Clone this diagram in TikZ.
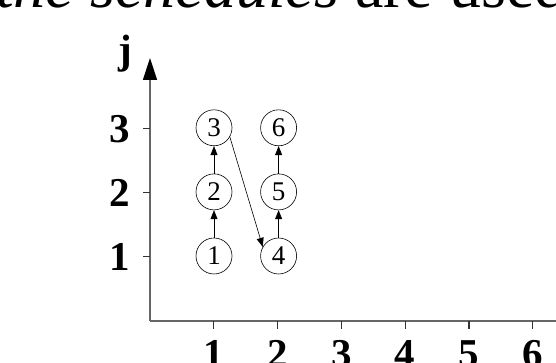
\documentclass[tikz,border=0pt]{standalone}
\usepackage{fontspec}
\setmainfont{Liberation Serif}
\usetikzlibrary{arrows.meta, positioning}

\begin{document}
\begin{tikzpicture}[x=1pt, y=1pt,
  % ---- Job nodes and dependency arrows ----
  job/.style={draw, circle, minimum size=36pt, inner sep=0pt,
    line width=0.6pt, font=\fontsize{27}{27}\selectfont},
  dep/.style={-{Triangle[length=9pt, width=7pt]}, line width=0.6pt},
  % ---- Axis styles ----
  axis/.style={draw=black!60, line width=1.4pt},
  tick/.style={draw=black!80, line width=1.2pt},
  axlbl/.style={font=\fontsize{41}{41}\selectfont\bfseries,
    inner sep=0pt, anchor=base},
  node distance=27.5pt,
]
\useasboundingbox (0,0) rectangle (556,363);
\clip (0,0) rectangle (556,363);

% ---- Running text above the figure (cut by the page edge) ----
\node[anchor=base west, inner sep=0pt, font=\fontsize{64}{64}\selectfont]
  (caption) at (-4,355) {\textit{the schedules} are used};

% ---- Axes ----
\coordinate (origin) at (150,42);
\coordinate (ytip)   at (150,305);
\coordinate (xend)   at (580,42);
\draw[axis, -{Triangle[length=22pt, width=14pt, color=black]}] (origin) -- (ytip);
\draw[axis] (origin) -- (xend);
\node[axlbl] (jlbl) at (125,299) {j};

% ---- Ticks and tick labels ----
\foreach \i in {1,...,6} {
  \draw[tick] (150+63.8*\i, 42) -- ++(0,-8);
  \node[axlbl] (x\i) at (150+63.8*\i, -5) {\i};
}
\foreach \i in {1,2,3} {
  \draw[tick] (150, 43+63.7*\i) -- ++(-7,0);
  \node[axlbl] (y\i) at (120, 29+63.7*\i) {\i};
}

% ---- Jobs ----
\node[job] (n1) at (214,107)      {1};
\node[job] (n2) [above=of n1]     {2};
\node[job] (n3) [above=of n2]     {3};
\node[job] (n4) [right=28pt of n1] {4};
\node[job] (n5) [above=of n4]     {5};
\node[job] (n6) [above=of n5]     {6};

% ---- Dependencies ----
\draw[dep] (n1) -- (n2);
\draw[dep] (n2) -- (n3);
\draw[dep] (n4) -- (n5);
\draw[dep] (n5) -- (n6);
\draw[dep] (n3.-30) -- (n4.150);
\end{tikzpicture}
\end{document}
